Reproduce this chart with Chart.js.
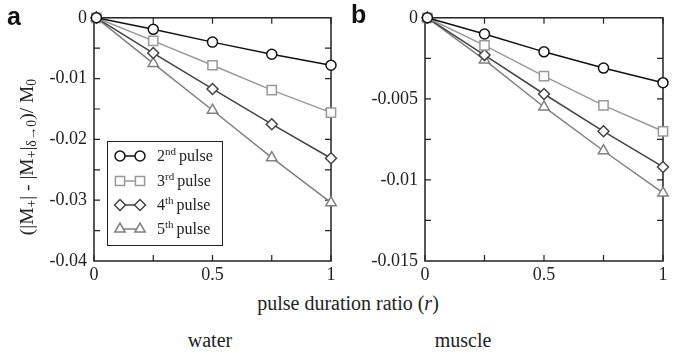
<!DOCTYPE html>
<html>
<head>
<meta charset="utf-8">
<script src="https://cdn.jsdelivr.net/npm/chart.js@4"></script>
<style>
  body { margin: 0; background: #fff; }
  #wrap { position: relative; width: 680px; height: 357px; font-family: 'Liberation Serif', serif; color: #222; }
  .cv { position: absolute; top: 0; width: 340px; height: 290px; }
  .txt { position: absolute; white-space: nowrap; font-size: 20px; }
  .panel { position: absolute; font-family: 'Liberation Sans', Arial, sans-serif; font-weight: bold; font-size: 25px; color: #111; }
  sub { font-size: 70%; vertical-align: -0.25em; line-height: 0; }
</style>
</head>
<body>
<div id="wrap">
  <div class="cv" style="left:0"><canvas id="chartA"></canvas></div>
  <div class="cv" style="left:340px"><canvas id="chartB"></canvas></div>
  <div class="panel" style="left:7px;top:2px">a</div>
  <div class="panel" style="left:351px;top:0px">b</div>
  <div class="txt" id="ytitle" style="left:27px;top:157px;font-size:19.5px;transform:translate(-50%,-50%) rotate(-90deg)">(|M<sub>+</sub>| - |M<sub>+</sub>|<sub>δ→0</sub>)/ M<sub>0</sub></div>
  <div class="txt" style="left:348px;top:303px;transform:translate(-50%,-50%)">pulse duration ratio (<i>r</i>)</div>
  <div class="txt" style="left:210px;top:340px;transform:translate(-50%,-50%)">water</div>
  <div class="txt" style="left:463px;top:340px;transform:translate(-50%,-50%)">muscle</div>
</div>
<script>
// pulse duration ratio r
const ratios = [0.01, 0.25, 0.5, 0.75, 1];

// panel a: water
const water2nd = [0, -0.0019, -0.0040, -0.0060, -0.0078];
const water3rd = [0, -0.0038, -0.0078, -0.0119, -0.0156];
const water4th = [0, -0.0058, -0.0117, -0.0175, -0.0231];
const water5th = [0, -0.0075, -0.0152, -0.0230, -0.0304];

// panel b: muscle
const muscle2nd = [0, -0.0010, -0.0021, -0.0031, -0.0040];
const muscle3rd = [0, -0.0017, -0.0036, -0.0054, -0.0070];
const muscle4th = [0, -0.0023, -0.0047, -0.0070, -0.0092];
const muscle5th = [0, -0.0026, -0.0055, -0.0082, -0.0108];

const pulseNums = ['2', '3', '4', '5'];
const pulseSups = ['nd', 'rd', 'th', 'th'];

const seriesStyle = [
    { color: '#111111', pointStyle: 'circle', radius: 5 },
    { color: '#999999', pointStyle: 'rect', radius: 6.5 },
    { color: '#444444', pointStyle: 'rectRot', radius: 5.5 },
    { color: '#808080', pointStyle: 'triangle', radius: 6 }
];

const FONT = "'Liberation Serif', serif";
Chart.defaults.font.family = FONT;
Chart.defaults.color = '#222';

function makeDatasets(seriesList) {
    return seriesList.map((vals, i) => ({
        label: pulseNums[i] + pulseSups[i] + ' pulse',
        data: ratios.map((r, k) => ({ x: r, y: vals[k] })),
        borderColor: seriesStyle[i].color,
        borderWidth: 1.5,
        pointStyle: seriesStyle[i].pointStyle,
        pointRadius: seriesStyle[i].radius,
        pointBorderWidth: 1.5,
        pointBorderColor: seriesStyle[i].color,
        pointBackgroundColor: '#ffffff',
        clip: false,
        tension: 0
    }));
}

// frame and inward ticks on all four sides
const framePlugin = {
    id: 'frame',
    beforeDatasetsDraw(chart, args, opts) {
        const { ctx, chartArea: a, scales } = chart;
        ctx.save();
        ctx.strokeStyle = '#222';
        ctx.lineWidth = 1.5;
        ctx.strokeRect(a.left, a.top, a.right - a.left, a.bottom - a.top);
        ctx.lineWidth = 1.2;
        ctx.beginPath();
        opts.xTicks.forEach(v => {
            const px = scales.x.getPixelForValue(v);
            ctx.moveTo(px, a.bottom); ctx.lineTo(px, a.bottom - 6);
            ctx.moveTo(px, a.top); ctx.lineTo(px, a.top + 6);
        });
        opts.yTicks.forEach(v => {
            const py = scales.y.getPixelForValue(v);
            ctx.moveTo(a.left, py); ctx.lineTo(a.left + 6, py);
            ctx.moveTo(a.right, py); ctx.lineTo(a.right - 6, py);
        });
        ctx.stroke();
        ctx.restore();
    }
};

// legend box drawn inside the plot of panel a
const boxLegendPlugin = {
    id: 'boxLegend',
    afterDatasetsDraw(chart, args, opts) {
        if (!opts.show) return;
        const { ctx } = chart;
        const x0 = 107, y0 = 141, w = 115, h = 104;
        ctx.save();
        ctx.fillStyle = '#fff';
        ctx.fillRect(x0, y0, w, h);
        ctx.strokeStyle = '#222';
        ctx.lineWidth = 1;
        ctx.strokeRect(x0 + 0.5, y0 + 0.5, w, h);
        const rows = [156, 181, 205, 229];
        chart.data.datasets.forEach((ds, i) => {
            const y = rows[i];
            ctx.strokeStyle = ds.borderColor;
            ctx.lineWidth = 1.5;
            ctx.beginPath();
            ctx.moveTo(120, y); ctx.lineTo(140, y);
            ctx.stroke();
            [120, 140].forEach(px => {
                ctx.fillStyle = '#fff';
                Chart.helpers.drawPoint(ctx, {
                    pointStyle: ds.pointStyle,
                    radius: ds.pointRadius,
                    borderWidth: 1.5
                }, px, y);
            });
            ctx.fillStyle = '#222';
            ctx.textBaseline = 'alphabetic';
            ctx.textAlign = 'left';
            ctx.font = '16px ' + FONT;
            let tx = 157;
            ctx.fillText(pulseNums[i], tx, y + 5);
            tx += ctx.measureText(pulseNums[i]).width;
            ctx.font = '11px ' + FONT;
            ctx.fillText(pulseSups[i], tx, y - 1);
            tx += ctx.measureText(pulseSups[i]).width + 3;
            ctx.font = '16px ' + FONT;
            ctx.fillText('pulse', tx, y + 5);
        });
        ctx.restore();
    }
};

function fmt(v) {
    const n = Number(v.toFixed(5));
    return n === 0 ? '0' : String(n);
}

function makeChart(id, seriesList, yMin, yStep, yMinor, yWidth, padRight, showLegend) {
    return new Chart(document.getElementById(id), {
        type: 'line',
        data: { datasets: makeDatasets(seriesList) },
        options: {
            responsive: true,
            maintainAspectRatio: false,
            animation: false,
            layout: { padding: { top: 14, right: padRight, left: 0, bottom: 0 } },
            plugins: {
                legend: { display: false },
                tooltip: { enabled: false },
                frame: { xTicks: [0, 0.25, 0.5, 0.75, 1], yTicks: yMinor },
                boxLegend: { show: showLegend }
            },
            scales: {
                x: {
                    type: 'linear',
                    min: 0, max: 1,
                    grid: { display: false, drawTicks: false },
                    border: { display: false },
                    ticks: { stepSize: 0.5, callback: fmt, color: '#222', padding: 3, maxRotation: 0,
                             font: { family: FONT, size: 18 } },
                    afterFit: s => { s.height = 29; }
                },
                y: {
                    min: yMin, max: 0,
                    grid: { display: false, drawTicks: false },
                    border: { display: false },
                    ticks: { stepSize: yStep, callback: fmt, color: '#222', padding: 7,
                             font: { family: FONT, size: 18 } },
                    afterFit: s => { s.width = yWidth; }
                }
            }
        },
        plugins: [framePlugin, boxLegendPlugin]
    });
}

makeChart('chartA', [water2nd, water3rd, water4th, water5th], -0.04, 0.01,
    [-0.005, -0.01, -0.015, -0.02, -0.025, -0.03, -0.035], 94, 9, true);
makeChart('chartB', [muscle2nd, muscle3rd, muscle4th, muscle5th], -0.015, 0.005,
    [-0.0025, -0.005, -0.0075, -0.01, -0.0125], 85, 17, false);
</script>
</body>
</html>
